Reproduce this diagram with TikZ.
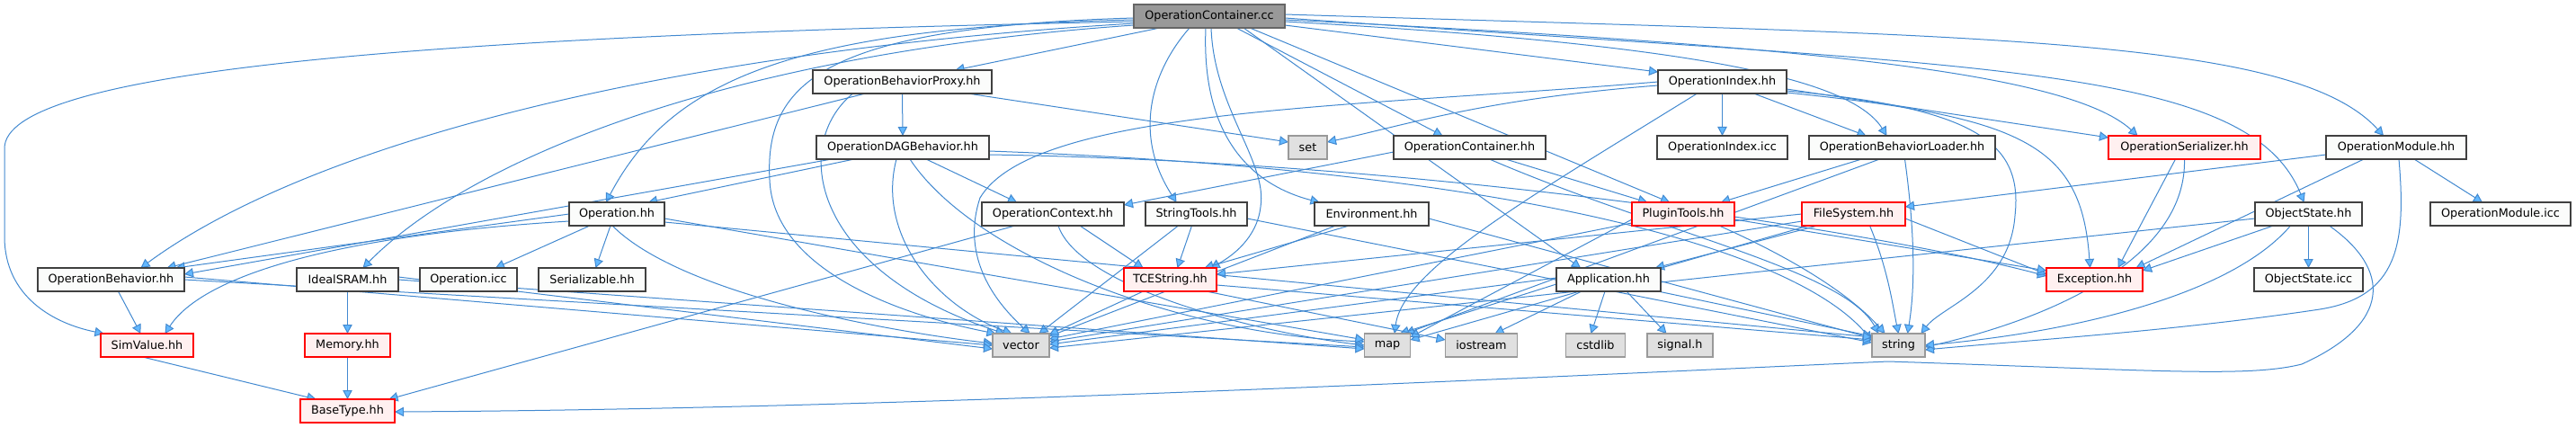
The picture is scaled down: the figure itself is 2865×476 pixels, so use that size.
\documentclass[tikz,border=0pt]{standalone}
\usepackage{fontspec}
\newfontfamily\dv{DejaVu Sans}
\usetikzlibrary{arrows.meta,calc,backgrounds}
\definecolor{edgec}{HTML}{4289D0}
\definecolor{arrf}{HTML}{63B8FF}
\definecolor{ndb}{HTML}{404040}
\definecolor{ndf}{HTML}{FBFCFB}
\definecolor{sysb}{HTML}{999999}
\definecolor{sysf}{HTML}{E0E0E0}
\definecolor{errb}{HTML}{FF0000}
\definecolor{errf}{HTML}{FFF0F0}
\definecolor{rootf}{HTML}{999999}
\definecolor{rootb}{HTML}{666666}
\begin{document}
\begin{tikzpicture}[x=0.5pt,y=-0.5pt,
 base/.style={minimum height=13pt, inner sep=0pt, font=\dv\fontsize{6.4}{7.5}\selectfont, line width=0.55pt},
 nd/.style={base, draw=ndb, fill=ndf},
 sys/.style={base, draw=sysb, fill=sysf},
 err/.style={base, draw=errb, fill=errf, line width=0.7pt},
 root/.style={base, draw=rootb, fill=rootf},
 e/.style={draw=edgec, line width=0.5pt, -{Triangle[length=5pt,width=5.2pt,fill=arrf]}}
]
\useasboundingbox (0,0) rectangle (2865,476);
% row 0
\node[root, minimum width=84pt] (OCC) at (1345,18) {OperationContainer.cc};
% row 1
\node[nd, minimum width=99.5pt] (OBP) at (1003.5,91) {OperationBehaviorProxy.hh};
\node[nd, minimum width=71.5pt] (OIdx) at (1915.5,91) {OperationIndex.hh};
% row 2
\node[nd, minimum width=96pt] (ODAG) at (1004,164) {OperationDAGBehavior.hh};
\node[sys, minimum width=21.5pt] (set) at (1454.5,164) {set};
\node[nd, minimum width=84.5pt] (OCH) at (1634.5,164) {OperationContainer.hh};
\node[nd, minimum width=72.5pt] (OIcc) at (1915.5,164) {OperationIndex.icc};
\node[nd, minimum width=103.5pt] (OBL) at (2115.5,164) {OperationBehaviorLoader.hh};
\node[err, minimum width=84.5pt] (OSer) at (2429.5,164) {OperationSerializer.hh};
\node[nd, minimum width=78pt] (OMod) at (2665,164) {OperationModule.hh};
% row 3
\node[nd, minimum width=53pt] (Op) at (686,238) {Operation.hh};
\node[nd, minimum width=79pt] (OCtx) at (1171,238) {OperationContext.hh};
\node[nd, minimum width=56.5pt] (STools) at (1330.5,238) {StringTools.hh};
\node[nd, minimum width=63.5pt] (Env) at (1525.5,238) {Environment.hh};
\node[err, minimum width=57pt] (PT) at (1872,238) {PluginTools.hh};
\node[err, minimum width=57.5pt] (FS) at (2061.5,238) {FileSystem.hh};
\node[nd, minimum width=59.5pt] (OS) at (2567.5,238) {ObjectState.hh};
\node[nd, minimum width=78pt] (OMicc) at (2781,238) {OperationModule.icc};
% row 4
\node[nd, minimum width=81.5pt] (OB) at (123.5,311) {OperationBehavior.hh};
\node[nd, minimum width=56.5pt] (SRAM) at (386.5,311) {IdealSRAM.hh};
\node[nd, minimum width=54pt] (Opicc) at (521,311) {Operation.icc};
\node[nd, minimum width=59.5pt] (Ser) at (658.5,311) {Serializable.hh};
\node[err, minimum width=51.5pt] (TCE) at (1301.5,311) {TCEString.hh};
\node[nd, minimum width=58pt] (App) at (1789,311) {Application.hh};
\node[err, minimum width=53.5pt] (Exc) at (2329.5,311) {Exception.hh};
\node[nd, minimum width=60.5pt] (OSicc) at (2567.5,311) {ObjectState.icc};
% row 5
\node[err, minimum width=51.5pt] (SimV) at (163.5,384) {SimValue.hh};
\node[err, minimum width=47.5pt] (Mem) at (386.5,384) {Memory.hh};
\node[sys, minimum width=31.5pt] (vector) at (1135.5,384) {vector};
\node[sys, minimum width=25.5pt] (map) at (1543,384) {map};
\node[sys, minimum width=40pt] (iostream) at (1647.5,384) {iostream};
\node[sys, minimum width=33pt] (cstdlib) at (1774.5,384) {cstdlib};
\node[sys, minimum width=36.5pt] (signal) at (1868.5,384) {signal.h};
\node[sys, minimum width=29.5pt] (string) at (2111.5,384) {string};
% row 6
\node[err, minimum width=52.5pt] (BaseType) at (386.5,457) {BaseType.hh};

\begin{scope}[on background layer]
% OperationContainer.cc
\draw[e] ($(OCC)+(-84,6)$) .. controls (450,40) and (5,80) .. (5,165) -- (5,263) .. controls (5,330) and (60,360) .. ($(SimV)+(-48,-13)$);
\draw[e] ($(OCC)+(-84,8)$) .. controls (700,60) and (330,170) .. ($(OB)+(33,-13)$);
\draw[e] ($(OCC)+(-84,10)$) .. controls (800,60) and (520,180) .. ($(SRAM)+(17,-13)$);
\draw[e] ($(OCC)+(-84,4)$) .. controls (880,30) and (745,90) .. ($(Op)+(-12,-13)$);
\draw[e] ($(OCC)+(-55,13)$) -- ($(OBP)+(59,-13)$);
\draw[e] ($(OCC)+(-84,2)$) .. controls (920,30) and (850,90) .. (856,200) .. controls (860,300) and (1000,350) .. ($(vector)+(-28,-13)$);
\draw[e] ($(OCC)+(-22,13)$) .. controls (1280,80) and (1260,150) .. ($(STools)+(-22,-13)$);
\draw[e] ($(OCC)+(2,13)$) .. controls (1350,120) and (1410,180) .. (1402,230) .. controls (1398,265) and (1370,285) .. ($(TCE)+(45,-13)$);
\draw[e] ($(OCC)+(-4,13)$) .. controls (1336,150) and (1390,205) .. ($(Env)+(-58,-13)$);
\draw[e] ($(OCC)+(30,13)$) -- ($(OCH)+(-30,-13)$);
\draw[e] ($(OCC)+(45,13)$) -- ($(PT)+(-15,-13)$);
\draw[e] ($(OCC)+(38,13)$) -- ($(App)+(-31,-13)$);
\draw[e] ($(OCC)+(84,10)$) -- ($(OIdx)+(-71.5,-11)$);
\draw[e] ($(OCC)+(84,6)$) .. controls (1900,50) and (2060,90) .. ($(OBL)+(-17,-13)$);
\draw[e] ($(OCC)+(84,4)$) .. controls (2000,50) and (2300,80) .. ($(OSer)+(-52,-13)$);
\draw[e] ($(OCC)+(84,2)$) .. controls (2200,75) and (2500,70) .. ($(OS)+(-5,-13)$);
\draw[e] ($(OCC)+(84,-2)$) .. controls (2200,40) and (2550,40) .. ($(OMod)+(-14,-13)$);
% OperationIndex.hh
\draw[e] ($(OIdx)+(-71.5,4)$) .. controls (1650,110) and (1560,140) .. ($(set)+(21.5,-6)$);
\draw[e] ($(OIdx)+(0,13)$) -- ($(OIcc)+(0,-13)$);
\draw[e] ($(OIdx)+(35,13)$) -- ($(OBL)+(-40,-13)$);
\draw[e] ($(OIdx)+(-28,13)$) .. controls (1700,220) and (1560,300) .. ($(map)+(8,-13)$);
\draw[e] ($(OIdx)+(71.5,8)$) -- ($(OSer)+(-84.5,-11)$);
\draw[e] ($(OIdx)+(71.5,10)$) .. controls (2200,120) and (2250,160) .. (2241,240) .. controls (2235,320) and (2160,340) .. ($(string)+(25,-13)$);
\draw[e] ($(OIdx)+(71.5,12)$) .. controls (2250,130) and (2315,160) .. ($(Exc)+(-5,-13)$);
\draw[e] ($(OIdx)+(-71.5,0)$) .. controls (1500,120) and (1150,120) .. (1090,220) .. controls (1070,280) and (1100,330) .. ($(vector)+(10,-13)$);
% OperationBehaviorProxy.hh
\draw[e] ($(OBP)+(0,13)$) -- ($(ODAG)+(0,-13)$);
\draw[e] ($(OBP)+(73,13)$) -- ($(set)+(-21.5,-6)$);
\draw[e] ($(OBP)+(-41,13)$) -- ($(OB)+(62,-13)$);
\draw[e] ($(OBP)+(-55,13)$) .. controls (880,160) and (900,300) .. ($(vector)+(-18,-13)$);
% OperationDAGBehavior.hh
\draw[e] ($(ODAG)+(-54,13)$) -- ($(Op)+(35,-13)$);
\draw[e] ($(ODAG)+(-79,13)$) -- ($(OB)+(81.5,-6)$);
\draw[e] ($(ODAG)+(26,13)$) -- ($(OCtx)+(-40,-13)$);
\draw[e] ($(ODAG)+(-7,13)$) .. controls (975,260) and (1040,340) .. ($(vector)+(-10,-13)$);
\draw[e] ($(ODAG)+(8,13)$) .. controls (1080,280) and (1300,370) .. ($(map)+(-25.5,-4)$);
\draw[e] ($(ODAG)+(96,4)$) .. controls (1700,190) and (2000,280) .. ($(string)+(-29.5,-5)$);
\draw[e] ($(ODAG)+(96,8)$) .. controls (1600,180) and (2100,260) .. ($(Exc)+(-53.5,-4)$);
% OperationContainer.hh
\draw[e] ($(OCH)+(40,13)$) -- ($(PT)+(-40,-13)$);
\draw[e] ($(OCH)+(-84.5,5)$) -- ($(OCtx)+(79,-10)$);
\draw[e] ($(OCH)+(22,13)$) .. controls (1850,260) and (2050,300) .. ($(string)+(-22,-13)$);
% OperationBehaviorLoader.hh
\draw[e] ($(OBL)+(-45,13)$) -- ($(PT)+(42,-13)$);
\draw[e] ($(OBL)+(-25,13)$) -- ($(map)+(20,-13)$);
\draw[e] ($(OBL)+(3,13)$) .. controls (2130,260) and (2130,320) .. ($(string)+(10,-13)$);
% OperationSerializer.hh
\draw[e] ($(OSer)+(-10,13)$) -- ($(Exc)+(26,-13)$);
\draw[e] ($(OSer)+(0,13)$) .. controls (2432,280) and (2300,350) .. ($(string)+(29.5,2)$);
% OperationModule.hh
\draw[e] ($(OMod)+(20,13)$) -- ($(OMicc)+(-20,-13)$);
\draw[e] ($(OMod)+(-36,13)$) -- ($(Exc)+(46,-13)$);
\draw[e] ($(OMod)+(3,13)$) .. controls (2676,270) and (2668,330) .. (2580,344) .. controls (2420,368) and (2260,378) .. ($(string)+(29.5,5)$);
\draw[e] ($(OMod)+(-78,8)$) -- ($(FS)+(57.5,-8)$);
% ObjectState.hh
\draw[e] ($(OS)+(0,13)$) -- ($(OSicc)+(0,-13)$);
\draw[e] ($(OS)+(-39,13)$) -- ($(Exc)+(53.5,-10)$);
\draw[e] ($(OS)+(-20,13)$) .. controls (2480,330) and (2300,370) .. ($(string)+(29.5,0)$);
\draw[e] ($(OS)+(23,13)$) .. controls (2660,300) and (2660,360) .. (2560,405) .. controls (2500,420) and (2400,412) .. (2100,402) .. controls (1700,420) and (1000,455) .. ($(BaseType)+(52.5,1)$);
\draw[e] ($(OS)+(-59.5,5)$) -- ($(vector)+(31.5,3)$);
% FileSystem.hh
\draw[e] ($(FS)+(57.5,5)$) -- ($(Exc)+(-53.5,-6)$);
\draw[e] ($(FS)+(18,13)$) .. controls (2100,300) and (2105,340) .. ($(string)+(0,-13)$);
\draw[e] ($(FS)+(-57.5,0)$) -- ($(TCE)+(51.5,-6)$);
\draw[e] ($(FS)+(-57.5,8)$) -- ($(vector)+(31.5,-4)$);
\draw[e] ($(FS)+(-40,13)$) -- ($(App)+(52,-13)$);
\draw[e] ($(FS)+(-50,13)$) -- ($(map)+(25.5,-6)$);
% PluginTools.hh
\draw[e] ($(PT)+(57,6)$) -- ($(Exc)+(-53.5,-10)$);
\draw[e] ($(PT)+(40,13)$) .. controls (2000,290) and (2060,330) .. ($(string)+(-15,-13)$);
\draw[e] ($(PT)+(-57,6)$) -- ($(map)+(25.5,-9)$);
\draw[e] ($(PT)+(-57,10)$) -- ($(vector)+(31.5,-7)$);
% Environment.hh
\draw[e] ($(Env)+(-25,13)$) -- ($(TCE)+(38,-13)$);
\draw[e] ($(Env)+(-40,13)$) -- ($(vector)+(31.5,-10)$);
\draw[e] ($(Env)+(63.5,5)$) -- ($(string)+(-29.5,-8)$);
% Application.hh
\draw[e] ($(App)+(-58,5)$) -- ($(map)+(14,-13)$);
\draw[e] ($(App)+(-30,13)$) -- ($(iostream)+(15,-13)$);
\draw[e] ($(App)+(-4,13)$) -- ($(cstdlib)+(-5,-13)$);
\draw[e] ($(App)+(20,13)$) -- ($(signal)+(-15,-13)$);
\draw[e] ($(App)+(55,13)$) -- ($(string)+(-29.5,-10)$);
\draw[e] ($(App)+(-58,-2)$) -- ($(vector)+(31.5,-1)$);
% StringTools.hh
\draw[e] ($(STools)+(-5,13)$) -- ($(TCE)+(8,-13)$);
\draw[e] ($(STools)+(-20,13)$) -- ($(vector)+(20,-13)$);
\draw[e] ($(STools)+(56.5,5)$) -- ($(string)+(-29.5,-3)$);
% OperationContext.hh
\draw[e] ($(OCtx)+(30,13)$) -- ($(TCE)+(-30,-13)$);
\draw[e] ($(OCtx)+(-42,13)$) -- ($(BaseType)+(46,-13)$);
\draw[e] ($(OCtx)+(6,13)$) .. controls (1200,320) and (1400,370) .. ($(map)+(-25.5,0)$);
% TCEString.hh
\draw[e] ($(TCE)+(51.5,6)$) -- ($(string)+(-29.5,-6)$);
\draw[e] ($(TCE)+(-30,13)$) -- ($(vector)+(31.5,-12)$);
\draw[e] ($(TCE)+(40,13)$) -- ($(iostream)+(-40,-6)$);
% Operation.hh
\draw[e] ($(Op)+(-30,13)$) -- ($(Opicc)+(30,-13)$);
\draw[e] ($(Op)+(-7,13)$) -- ($(Ser)+(4,-13)$);
\draw[e] ($(Op)+(-53,0)$) -- ($(OB)+(72,-13)$);
\draw[e] ($(Op)+(-53,8)$) .. controls (400,260) and (230,300) .. ($(SimV)+(20,-13)$);
\draw[e] ($(Op)+(-5,13)$) .. controls (760,330) and (1000,370) .. ($(vector)+(-31.5,-2)$);
\draw[e] ($(Op)+(53,5)$) -- ($(map)+(-25.5,-6)$);
\draw[e] ($(Op)+(53,9)$) -- ($(string)+(-29.5,-9)$);
% OperationBehavior.hh
\draw[e] ($(OB)+(8,13)$) -- ($(SimV)+(-7,-13)$);
\draw[e] ($(OB)+(81.5,-3)$) -- ($(vector)+(-31.5,0)$);
\draw[e] ($(OB)+(81.5,0)$) -- ($(map)+(-25.5,2)$);
% IdealSRAM.hh
\draw[e] ($(SRAM)+(0,13)$) -- ($(Mem)+(0,-13)$);
\draw[e] ($(SRAM)+(56.5,-3)$) -- ($(vector)+(-31.5,4)$);
\draw[e] ($(SRAM)+(56.5,0)$) -- ($(map)+(-25.5,4)$);
% Memory / SimValue
\draw[e] ($(Mem)+(0,13)$) -- ($(BaseType)+(0,-13)$);
\draw[e] ($(SimV)+(-5,13)$) -- ($(BaseType)+(-35,-13)$);
\end{scope}
\end{tikzpicture}
\end{document}
